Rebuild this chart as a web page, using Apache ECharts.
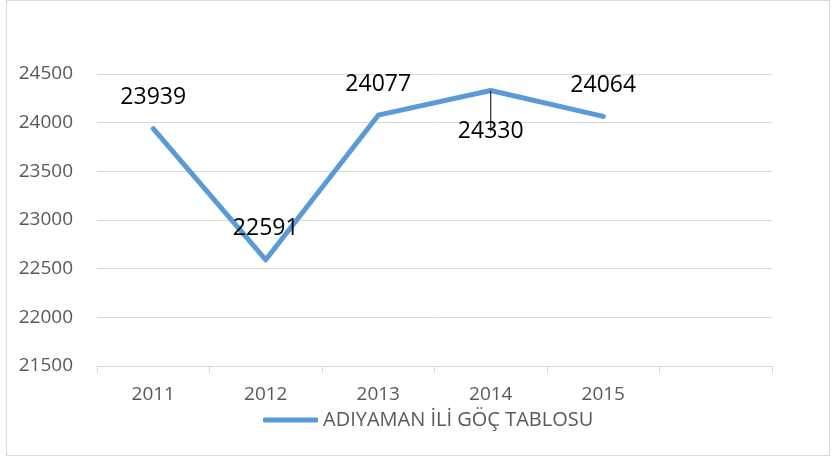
<!DOCTYPE html>
<html>
<head>
<meta charset="utf-8">
<script src="https://cdn.jsdelivr.net/npm/echarts@6/dist/echarts.min.js"></script>
<style>
  html, body { margin: 0; padding: 0; background: #fff; }
  #frame { position: absolute; left: 6px; top: 0px; width: 824px; height: 456px; border: 1px solid #d9d9d9; box-sizing: border-box; }
  #chart { position: absolute; left: 0; top: 0; width: 835px; height: 461px; }
</style>
</head>
<body>
<div id="frame"></div>
<div id="chart"></div>
<script>
// yıllar (son kategori boş, Excel'deki gibi)
const years = ['2011', '2012', '2013', '2014', '2015', '']
const values = [23939, 22591, 24077, 24330, 24064]
const seriesName = 'ADIYAMAN İLİ GÖÇ TABLOSU'

const FONT = '"Open Sans", sans-serif'
const chart = echarts.init(document.getElementById('chart'))

const option = {
  animation: false,
  grid: { left: 97, right: 63, top: 74, bottom: 95 },
  legend: {
    data: [{ name: seriesName, icon: 'roundRect', itemStyle: { color: '#5b9bd5', opacity: 1 } }],
    left: 258,
    top: 405,
    itemWidth: 55,
    itemHeight: 5,
    itemGap: 4,
    textStyle: { fontFamily: FONT, fontSize: 20, color: '#595959' },
  },
  xAxis: {
    type: 'category',
    data: years,
    boundaryGap: true,
    axisLine: { lineStyle: { color: '#d9d9d9', width: 1 } },
    axisTick: { show: true, length: 7, lineStyle: { color: '#d9d9d9' } },
    axisLabel: { fontFamily: FONT, fontSize: 19, color: '#595959', margin: 19 },
  },
  yAxis: {
    type: 'value',
    min: 21500,
    max: 24500,
    interval: 500,
    axisLine: { show: false },
    axisTick: { show: false },
    splitLine: { lineStyle: { color: '#d9d9d9', width: 1 } },
    axisLabel: { fontFamily: FONT, fontSize: 19, color: '#595959', margin: 24, formatter: (v) => String(v) },
  },
  series: [
    {
      name: seriesName,
      type: 'line',
      data: values.map((v, i) => i === 3
        ? { value: v, label: { position: 'bottom', distance: 29 }, labelLine: { show: true, lineStyle: { color: '#000', width: 1 } } }
        : v),
      showSymbol: true,
      symbol: 'circle',
      symbolSize: 1,
      itemStyle: { color: '#5b9bd5' },
      lineStyle: { color: '#5b9bd5', width: 5, cap: 'round', join: 'round' },
      label: {
        show: true,
        position: 'top',
        distance: 19,
        fontFamily: FONT,
        fontSize: 23,
        color: '#000',
      },
      labelLine: { show: false },
    },
  ],
}

chart.setOption(option)
</script>
</body>
</html>
